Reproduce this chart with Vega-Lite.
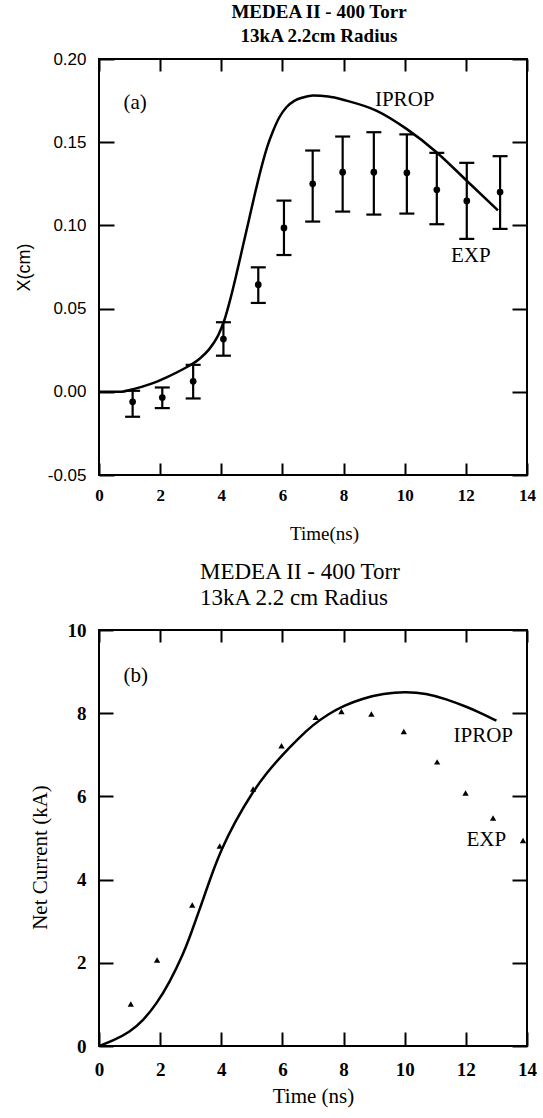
{
  "$schema": "https://vega.github.io/schema/vega-lite/v6.json",
  "padding": {"left": 14, "top": 2, "right": 5, "bottom": 5},
  "autosize": {"type": "pad"},
  "background": "white",
  "spacing": 16,
  "config": {
    "view": {"stroke": "black", "strokeWidth": 2},
    "axis": {"grid": false, "domain": false, "tickColor": "black", "tickWidth": 2, "labelColor": "black", "titleColor": "black", "labelFlush": false, "labelOverlap": false},
    "font": "Liberation Serif"
  },
  "datasets": {
    "curveA": [
      {"t": 0, "v": 0}, {"t": 0.69, "v": 0}, {"t": 1.12, "v": 0.0016}, {"t": 1.67, "v": 0.0046},
      {"t": 2.21, "v": 0.0087}, {"t": 2.76, "v": 0.0137}, {"t": 3.3, "v": 0.020}, {"t": 3.6, "v": 0.0255},
      {"t": 3.9, "v": 0.034}, {"t": 4.1, "v": 0.043}, {"t": 4.3, "v": 0.056}, {"t": 4.5, "v": 0.071},
      {"t": 4.7, "v": 0.087}, {"t": 4.9, "v": 0.103}, {"t": 5.1, "v": 0.119}, {"t": 5.3, "v": 0.134},
      {"t": 5.5, "v": 0.147}, {"t": 5.7, "v": 0.157}, {"t": 5.9, "v": 0.165}, {"t": 6.13, "v": 0.171},
      {"t": 6.4, "v": 0.175}, {"t": 6.7, "v": 0.177}, {"t": 7.0, "v": 0.178}, {"t": 7.5, "v": 0.1775},
      {"t": 8.09, "v": 0.175}, {"t": 9.07, "v": 0.169}, {"t": 10.06, "v": 0.158}, {"t": 11.04, "v": 0.144},
      {"t": 12.02, "v": 0.127}, {"t": 13.05, "v": 0.109}
    ],
    "ptsA": [
      {"t": 1.1, "v": -0.006, "lo": -0.015, "hi": 0.0006},
      {"t": 2.07, "v": -0.0035, "lo": -0.0098, "hi": 0.0026},
      {"t": 3.08, "v": 0.0063, "lo": -0.004, "hi": 0.0162},
      {"t": 4.07, "v": 0.0317, "lo": 0.0217, "hi": 0.0418},
      {"t": 5.21, "v": 0.0644, "lo": 0.0534, "hi": 0.0748},
      {"t": 6.05, "v": 0.0985, "lo": 0.0822, "hi": 0.1149},
      {"t": 6.99, "v": 0.125, "lo": 0.1023, "hi": 0.145},
      {"t": 7.97, "v": 0.132, "lo": 0.1083, "hi": 0.1534},
      {"t": 8.99, "v": 0.132, "lo": 0.1065, "hi": 0.156},
      {"t": 10.07, "v": 0.1316, "lo": 0.1071, "hi": 0.1547},
      {"t": 11.05, "v": 0.1214, "lo": 0.1007, "hi": 0.1436},
      {"t": 12.03, "v": 0.1147, "lo": 0.0919, "hi": 0.1376},
      {"t": 13.12, "v": 0.12, "lo": 0.0979, "hi": 0.1416}
    ],
    "labA": [
      {"t": 1.18, "v": 0.1737, "label": "(a)"},
      {"t": 10.0, "v": 0.1756, "label": "IPROP"},
      {"t": 12.16, "v": 0.0818, "label": "EXP"}
    ],
    "curveB": [
      {"t": 0, "v": 0}, {"t": 0.46, "v": 0.13}, {"t": 1.0, "v": 0.33}, {"t": 1.44, "v": 0.61},
      {"t": 1.88, "v": 1.01}, {"t": 2.31, "v": 1.53}, {"t": 2.75, "v": 2.2}, {"t": 3.0, "v": 2.68},
      {"t": 3.37, "v": 3.45}, {"t": 3.7, "v": 4.15}, {"t": 4.0, "v": 4.72}, {"t": 4.44, "v": 5.38},
      {"t": 5.0, "v": 6.08}, {"t": 5.5, "v": 6.58}, {"t": 6.0, "v": 7.0}, {"t": 6.5, "v": 7.38},
      {"t": 7.0, "v": 7.72}, {"t": 7.5, "v": 7.98}, {"t": 8.0, "v": 8.18}, {"t": 8.64, "v": 8.36},
      {"t": 9.3, "v": 8.47}, {"t": 10.0, "v": 8.52}, {"t": 10.7, "v": 8.48}, {"t": 11.36, "v": 8.34},
      {"t": 12.0, "v": 8.16}, {"t": 12.45, "v": 8.02}, {"t": 13.0, "v": 7.82}
    ],
    "ptsB": [
      {"t": 1.04, "v": 1.01}, {"t": 1.9, "v": 2.07}, {"t": 3.05, "v": 3.39}, {"t": 3.95, "v": 4.81},
      {"t": 5.04, "v": 6.18}, {"t": 5.97, "v": 7.22}, {"t": 7.09, "v": 7.9}, {"t": 7.93, "v": 8.04},
      {"t": 8.91, "v": 7.98}, {"t": 9.97, "v": 7.56}, {"t": 11.06, "v": 6.83}, {"t": 11.99, "v": 6.08},
      {"t": 12.89, "v": 5.48}, {"t": 13.87, "v": 4.94}
    ],
    "labB": [
      {"t": 1.2, "v": 8.9, "label": "(b)"},
      {"t": 12.57, "v": 7.46, "label": "IPROP"},
      {"t": 12.67, "v": 4.96, "label": "EXP"}
    ]
  },
  "vconcat": [
    {
      "width": 428,
      "height": 416,
      "title": {"text": ["MEDEA II - 400 Torr", "13kA 2.2cm Radius"], "font": "Liberation Serif", "fontSize": 19, "fontWeight": "bold", "anchor": "middle", "frame": "group", "lineHeight": 24, "offset": 4, "color": "black", "dx": 6},
      "layer": [
        {
          "data": {"name": "curveA"},
          "mark": {"type": "line", "color": "black", "strokeWidth": 2.5, "interpolate": "monotone"},
          "encoding": {
            "x": {"field": "t", "type": "quantitative", "scale": {"domain": [0, 14], "nice": false},
              "axis": {"orient": "bottom", "values": [0, 2, 4, 6, 8, 10, 12, 14], "tickSize": -12, "labelPadding": 24, "labelFont": "Liberation Serif", "labelFontWeight": "bold", "labelFontSize": 17, "title": "Time(ns)", "titleFont": "Liberation Serif", "titleFontSize": 19, "titleFontWeight": "normal", "titlePadding": 21, "titleX": 225}},
            "y": {"field": "v", "type": "quantitative", "scale": {"domain": [-0.05, 0.2], "nice": false, "zero": false},
              "axis": {"orient": "left", "values": [-0.05, 0, 0.05, 0.1, 0.15, 0.2], "format": ".2f", "labelExpr": "replace(datum.label, '\u2212', '-')", "tickSize": -15, "labelPadding": 28, "labelFont": "Liberation Sans", "labelFontSize": 17, "labelFontWeight": "normal", "title": "X(cm)", "titleFont": "Liberation Sans", "titleFontSize": 18, "titleFontWeight": "normal", "titlePadding": 14}}
          }
        },
        {
          "data": {"name": "ptsA"},
          "mark": {"type": "rule", "color": "black", "strokeWidth": 2.2},
          "encoding": {
            "x": {"field": "t", "type": "quantitative", "scale": {"domain": [0, 14], "nice": false},
              "axis": {"orient": "top", "values": [0, 2, 4, 6, 8, 10, 12, 14], "tickSize": -12, "labels": false, "title": null}},
            "y": {"field": "lo", "type": "quantitative", "scale": {"domain": [-0.05, 0.2], "nice": false, "zero": false},
              "axis": {"orient": "right", "values": [-0.05, 0, 0.05, 0.1, 0.15, 0.2], "tickSize": -15, "labels": false, "title": null}},
            "y2": {"field": "hi"}
          }
        },
        {
          "data": {"name": "ptsA"},
          "mark": {"type": "tick", "orient": "horizontal", "size": 15, "thickness": 2.2, "color": "black", "opacity": 1},
          "encoding": {
            "x": {"field": "t", "type": "quantitative", "scale": {"domain": [0, 14], "nice": false}, "axis": null},
            "y": {"field": "lo", "type": "quantitative", "scale": {"domain": [-0.05, 0.2], "nice": false, "zero": false}, "axis": null}
          }
        },
        {
          "data": {"name": "ptsA"},
          "mark": {"type": "tick", "orient": "horizontal", "size": 15, "thickness": 2.2, "color": "black", "opacity": 1},
          "encoding": {
            "x": {"field": "t", "type": "quantitative", "scale": {"domain": [0, 14], "nice": false}, "axis": null},
            "y": {"field": "hi", "type": "quantitative", "scale": {"domain": [-0.05, 0.2], "nice": false, "zero": false}, "axis": null}
          }
        },
        {
          "data": {"name": "ptsA"},
          "mark": {"type": "point", "filled": true, "size": 45, "color": "black", "opacity": 1},
          "encoding": {
            "x": {"field": "t", "type": "quantitative", "scale": {"domain": [0, 14], "nice": false}, "axis": null},
            "y": {"field": "v", "type": "quantitative", "scale": {"domain": [-0.05, 0.2], "nice": false, "zero": false}, "axis": null}
          }
        },
        {
          "data": {"name": "labA"},
          "mark": {"type": "text", "font": "Liberation Serif", "fontSize": 21, "color": "black"},
          "encoding": {
            "x": {"field": "t", "type": "quantitative", "scale": {"domain": [0, 14], "nice": false}, "axis": null},
            "y": {"field": "v", "type": "quantitative", "scale": {"domain": [-0.05, 0.2], "nice": false, "zero": false}, "axis": null},
            "text": {"field": "label"}
          }
        }
      ],
      "resolve": {"axis": {"x": "independent", "y": "independent"}}
    },
    {
      "width": 428,
      "height": 416,
      "title": {"text": ["MEDEA II - 400 Torr", "13kA 2.2 cm Radius"], "font": "Liberation Serif", "fontSize": 23, "fontWeight": "normal", "anchor": "start", "align": "left", "frame": "group", "lineHeight": 26, "offset": 11, "color": "black", "dx": 101},
      "layer": [
        {
          "data": {"name": "curveB"},
          "mark": {"type": "line", "color": "black", "strokeWidth": 2.5, "interpolate": "basis"},
          "encoding": {
            "x": {"field": "t", "type": "quantitative", "scale": {"domain": [0, 14], "nice": false},
              "axis": {"orient": "bottom", "values": [0, 2, 4, 6, 8, 10, 12, 14], "tickSize": -14, "labelPadding": 28, "labelFont": "Liberation Serif", "labelFontWeight": "bold", "labelFontSize": 19, "title": "Time (ns)", "titleFont": "Liberation Serif", "titleFontSize": 21, "titleFontWeight": "normal", "titlePadding": 6}},
            "y": {"field": "v", "type": "quantitative", "scale": {"domain": [0, 10], "nice": false, "zero": false},
              "axis": {"orient": "left", "values": [0, 2, 4, 6, 8, 10], "tickSize": -14, "labelPadding": 27, "labelFont": "Liberation Serif", "labelFontSize": 19, "labelFontWeight": "bold", "title": "Net Current (kA)", "titleFont": "Liberation Serif", "titleFontSize": 21, "titleFontWeight": "normal", "titlePadding": 17, "titleY": 227}}
          }
        },
        {
          "data": {"name": "ptsB"},
          "mark": {"type": "point", "shape": "triangle-up", "filled": true, "size": 40, "color": "black", "opacity": 1},
          "encoding": {
            "x": {"field": "t", "type": "quantitative", "scale": {"domain": [0, 14], "nice": false},
              "axis": {"orient": "top", "values": [0, 2, 4, 6, 8, 10, 12, 14], "tickSize": -12, "labels": false, "title": null}},
            "y": {"field": "v", "type": "quantitative", "scale": {"domain": [0, 10], "nice": false, "zero": false},
              "axis": {"orient": "right", "values": [0, 2, 4, 6, 8, 10], "tickSize": -15, "labels": false, "title": null}}
          }
        },
        {
          "data": {"name": "labB"},
          "mark": {"type": "text", "font": "Liberation Serif", "fontSize": 21, "color": "black"},
          "encoding": {
            "x": {"field": "t", "type": "quantitative", "scale": {"domain": [0, 14], "nice": false}, "axis": null},
            "y": {"field": "v", "type": "quantitative", "scale": {"domain": [0, 10], "nice": false, "zero": false}, "axis": null},
            "text": {"field": "label"}
          }
        }
      ],
      "resolve": {"axis": {"x": "independent", "y": "independent"}}
    }
  ]
}
